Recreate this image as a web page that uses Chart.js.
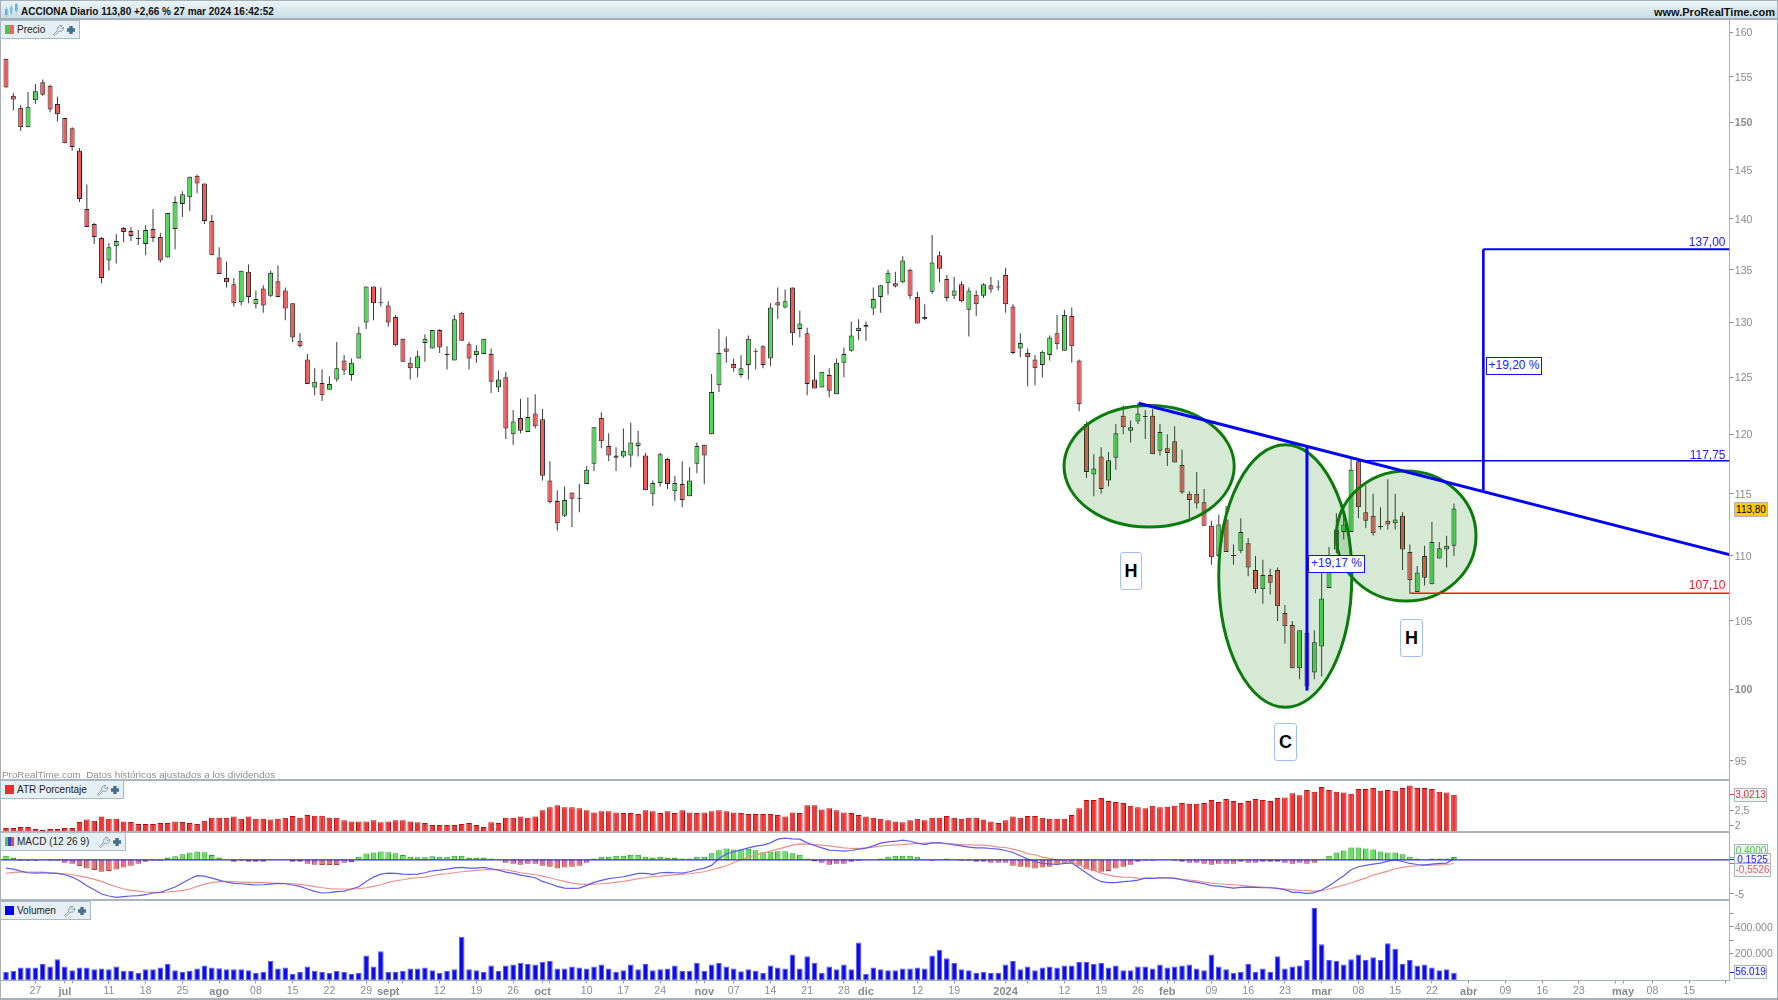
<!DOCTYPE html>
<html lang="es"><head><meta charset="utf-8"><title>ACCIONA Diario</title>
<script src="https://cdn.jsdelivr.net/npm/chart.js@4/dist/chart.umd.js"></script>
<style>
html,body{margin:0;padding:0;background:#fff;overflow:hidden}
#stage{position:relative;width:1778px;height:1000px;background:#fff;font-family:"Liberation Sans",Arial,sans-serif;overflow:hidden}
canvas{position:absolute;left:0;display:block}
.ov{position:absolute;white-space:nowrap;z-index:5;box-sizing:border-box}
.hline{position:absolute;left:0;z-index:4;background:#a9b6bd}
.legend{position:absolute;left:0;z-index:6;box-sizing:border-box;background:#e6eff3;border:1px solid #a8bac6;border-left:1px solid #a8bac6;color:#222;font-size:10px;display:flex;align-items:center}
.legend .sw{display:inline-block;width:9px;height:9px;margin:0 3px 0 4px;flex:none}
.legend svg{margin-left:auto;margin-right:3px;flex:none}
.box{position:absolute;z-index:6;box-sizing:border-box;background:#f2f4f5;border:1px solid #a9b6bd;font-size:10px;text-align:center;white-space:nowrap}
.lvl{position:absolute;z-index:6;font-size:12px;white-space:nowrap;text-align:right}
.pct{position:absolute;z-index:6;box-sizing:border-box;background:#fff;border:1.5px solid #1010ff;color:#2020ff;font-size:12px;text-align:center;white-space:nowrap}
.tag{position:absolute;z-index:6;box-sizing:border-box;background:#fff;border:1.5px solid #9fc0fa;border-radius:3px;color:#000;font-weight:bold;font-size:18px;text-align:center}
</style></head><body>
<div id="stage">
<canvas id="cPrice" width="1778" height="760" style="top:20px"></canvas>
<canvas id="cAtr" width="1778" height="52" style="top:780px"></canvas>
<canvas id="cMacd" width="1778" height="68" style="top:832px"></canvas>
<canvas id="cVol" width="1778" height="100" style="top:900px"></canvas>
</div>
<script>
const opens=[157.0,152.9,151.6,149.5,152.4,154.4,154.0,152.0,150.5,149.4,
147.0,141.0,139.5,138.1,135.9,137.3,139.1,138.8,138.0,137.5,
139.0,138.2,136.2,139.0,141.5,142.2,144.4,143.6,139.8,136.2,
134.2,133.6,131.9,134.8,131.7,133.2,132.5,133.9,133.0,131.8,
128.3,126.6,124.1,124.5,123.9,124.8,126.5,125.2,126.7,130.0,
133.4,131.9,131.6,130.5,128.5,126.3,125.8,128.1,127.6,129.3,
127.0,126.5,130.9,128.0,127.0,127.1,127.1,124.1,125.0,120.0,
121.4,120.2,121.8,121.3,116.1,114.4,113.2,115.1,114.6,115.8,
117.5,121.4,119.0,118.2,118.1,118.2,119.0,118.2,115.0,115.9,
117.9,115.2,115.8,114.8,117.5,119.1,120.0,124.3,127.6,126.2,
125.2,126.1,127.3,127.8,126.7,131.9,131.4,133.3,129.4,129.0,
124.8,124.1,125.2,123.5,126.3,127.4,129.2,129.6,131.3,132.4,
133.7,133.7,133.8,135.0,132.4,130.3,132.9,136.4,134.1,132.5,
133.6,131.2,132.6,132.5,133.5,133.3,134.5,131.5,127.6,127.2,
126.6,126.1,127.0,129.0,127.4,130.6,126.5,120.9,116.6,118.1,
116.1,118.0,121.6,120.3,121.1,121.5,121.6,118.6,118.8,119.4,
117.4,115.0,115.0,114.3,112.4,110.0,112.9,110.0,110.4,111.0,
108.9,107.4,108.5,108.9,105.6,104.7,101.5,104.1,101.2,103.1,
107.5,110.5,111.9,111.9,117.7,113.5,113.2,112.3,112.8,112.6,
113.2,110.3,107.2,110.0,107.8,109.8,110.5,110.8];
const highs=[157.0,153.2,151.9,153.3,154.2,154.7,154.1,152.8,150.5,149.5,
147.3,143.5,139.6,138.2,137.6,138.5,139.2,139.2,138.9,139.4,
141.0,138.6,140.6,142.3,142.8,144.3,144.5,143.6,140.4,137.2,
135.8,134.2,134.9,135.5,133.0,133.5,134.9,135.4,133.3,131.8,
129.0,127.1,125.8,125.7,125.1,128.2,127.0,126.7,129.6,133.4,
133.4,133.3,132.0,130.7,128.5,126.8,127.4,128.9,129.3,129.4,
127.8,130.7,131.0,128.2,127.9,128.5,127.6,125.6,125.5,122.1,
123.1,123.2,123.5,122.2,117.7,115.3,115.6,115.1,115.8,117.3,
120.6,121.9,120.1,118.9,120.5,121.0,120.3,118.4,116.1,118.4,
118.0,116.5,117.7,117.2,119.3,119.1,125.3,129.4,128.7,126.7,
127.0,128.8,127.6,127.9,131.8,133.3,133.1,133.3,131.1,129.5,
127.0,125.5,125.8,126.7,127.7,130.1,130.3,130.1,133.3,133.5,
135.0,134.8,136.3,135.1,132.9,131.7,138.4,136.8,134.5,134.3,
133.9,133.3,133.0,133.7,134.3,134.0,135.2,131.7,129.0,127.6,
127.0,127.4,128.8,130.7,131.2,131.4,126.6,121.1,118.3,118.9,
118.5,120.9,122.5,121.2,122.7,122.1,122.2,120.9,120.0,120.7,
118.7,115.2,116.8,115.4,112.8,113.3,114.0,110.9,113.0,111.4,
110.0,109.7,109.0,109.1,106.2,105.0,104.3,104.2,104.3,108.8,
110.7,113.4,113.3,117.9,117.9,115.7,115.0,113.9,116.2,115.0,
113.5,110.9,109.2,110.8,112.7,111.1,111.6,114.2];
const lows=[153.8,151.3,149.1,149.5,152.0,152.9,151.1,150.1,147.8,147.0,
141.7,139.2,137.5,133.7,134.9,135.6,137.7,137.8,137.4,136.4,
137.7,135.7,136.2,137.0,140.2,140.8,142.6,139.5,136.4,134.6,
133.3,131.5,131.6,131.8,131.3,130.9,132.4,132.4,130.2,128.2,
127.7,124.4,123.4,122.9,123.9,124.6,125.2,124.7,126.7,129.4,
130.2,131.5,129.6,127.8,126.4,124.8,125.0,126.4,127.6,127.2,
125.7,126.5,128.3,125.7,126.3,127.1,123.6,123.7,119.6,119.1,
120.1,120.2,120.5,116.1,114.2,112.0,113.1,112.3,113.5,115.8,
116.9,118.8,117.7,116.9,118.0,117.2,118.1,115.3,114.0,115.6,
115.4,114.4,113.9,114.8,116.7,115.8,120.0,123.7,126.3,125.5,
125.0,124.8,125.7,125.8,126.0,130.3,131.3,127.9,128.6,123.4,
124.0,124.1,123.2,123.5,125.0,127.3,128.4,128.3,130.7,130.9,
132.6,133.3,133.7,132.2,129.9,130.2,132.7,133.8,132.0,132.2,
131.9,128.7,130.6,132.3,132.8,133.0,130.9,127.1,126.8,124.2,
124.3,125.0,126.5,127.5,127.4,126.3,122.0,116.3,114.8,115.0,
115.6,117.0,120.0,119.3,120.9,119.6,118.3,118.2,117.3,117.6,
115.0,113.0,113.8,112.4,109.3,109.9,110.3,109.3,110.2,108.4,
107.1,106.3,107.0,105.0,103.3,101.5,100.7,99.9,100.7,100.9,
107.5,110.2,111.3,111.9,113.0,112.2,111.6,112.1,112.1,112.1,
108.9,107.1,107.2,107.7,107.8,109.8,109.1,110.0];
const closes=[153.8,152.5,149.5,151.7,153.4,153.0,151.4,150.9,147.8,147.4,
142.0,139.2,138.2,134.2,137.2,137.8,138.7,138.3,138.0,138.9,
138.1,135.9,140.6,141.7,142.5,144.3,143.6,139.8,136.4,134.6,
133.8,131.8,134.9,132.4,132.2,131.6,134.7,132.4,131.3,128.6,
127.8,124.4,124.6,123.4,124.4,125.8,125.6,126.3,129.0,133.4,
131.8,131.8,130.0,127.9,126.4,125.8,126.9,128.5,129.3,127.7,
127.0,130.3,128.3,126.7,127.4,128.5,124.6,124.8,120.5,121.1,
120.3,121.5,120.7,116.5,114.3,112.6,114.5,114.6,114.6,117.0,
120.6,119.4,118.2,118.0,118.6,119.3,119.3,115.3,115.9,118.3,
115.8,115.9,114.5,116.1,119.0,118.2,123.7,127.2,127.3,125.8,
125.8,128.5,127.3,126.1,131.4,131.6,132.0,129.0,129.9,124.4,
124.0,125.5,123.8,126.3,127.1,128.8,129.5,129.8,132.2,133.5,
134.7,133.4,135.9,132.5,129.9,130.5,135.7,135.1,132.3,133.0,
132.0,133.0,131.7,133.6,133.1,133.3,131.7,127.2,128.1,126.8,
125.8,127.3,128.6,128.0,130.7,127.8,122.6,116.8,117.1,115.4,
117.8,120.1,120.6,120.6,121.8,121.5,118.3,120.2,118.4,117.6,
115.1,114.5,114.2,112.4,109.9,112.5,110.3,110.0,111.9,109.1,
107.4,108.5,107.9,106.1,104.6,101.5,104.3,100.2,103.4,106.7,
109.2,112.1,112.5,117.0,113.9,112.8,111.8,112.3,112.5,112.9,
110.5,108.1,108.7,108.3,111.1,110.6,110.8,113.8];
const atrPct=[1.91,1.91,1.94,1.94,1.88,1.84,1.88,1.88,1.91,1.91,2.11,2.19,2.15,2.29,2.22,2.22,2.13,2.11,2.04,2.04,2.04,2.08,2.08,2.13,2.11,2.08,2.04,2.15,2.25,2.25,2.25,2.29,2.22,2.29,2.22,2.22,2.19,2.22,2.25,2.31,2.25,2.34,2.32,2.32,2.25,2.25,2.17,2.13,2.13,2.13,2.17,2.10,2.13,2.17,2.17,2.13,2.10,2.08,2.01,2.01,2.01,2.01,2.04,2.08,2.01,1.94,2.10,2.08,
2.25,2.25,2.29,2.25,2.29,2.50,2.60,2.67,2.60,2.60,2.57,2.50,2.43,2.47,2.47,2.43,2.41,2.41,2.38,2.50,2.47,2.41,2.47,2.41,2.50,2.43,2.41,2.43,2.47,2.50,2.47,2.43,2.41,2.38,2.38,2.38,2.38,2.34,2.29,2.43,2.41,2.67,2.67,2.53,2.57,2.50,2.43,2.41,2.34,2.29,2.25,2.22,2.17,2.13,2.10,2.17,2.22,2.17,2.25,2.25,2.31,2.25,2.22,2.25,2.25,2.19,2.13,2.08,
2.17,2.29,2.25,2.31,2.31,2.25,2.22,2.22,2.22,2.34,2.57,2.84,2.84,2.91,2.81,2.78,2.74,2.65,2.60,2.57,2.65,2.60,2.62,2.65,2.74,2.72,2.72,2.74,2.84,2.78,2.88,2.81,2.74,2.81,2.88,2.84,2.81,2.91,2.93,3.07,3.00,3.18,3.12,3.28,3.18,3.12,3.09,3.05,3.21,3.21,3.24,3.15,3.18,3.15,3.24,3.33,3.24,3.24,3.21,3.12,3.09,3.02];
const macdHist=[.59,.34,-.15,-.15,-.15,0,-.15,-.15,-.44,-.59,
-.93,-1.27,-1.52,-1.76,-1.67,-1.42,-1.13,-.88,-.59,-.29,
-.15,-.15,.34,.54,.83,1.08,1.23,1.13,.69,.34,
0,-.29,-.15,-.29,-.29,-.29,0,0,0,-.29,
-.29,-.59,-.74,-.78,-.78,-.78,-.44,-.34,.44,.93,
1.08,1.23,1.13,.98,.69,.44,.39,.39,.54,.44,
.44,.59,.59,.34,.34,.34,.2,0,
-.44,-.59,-.74,-.59,-.59,-.88,-1.03,-1.27,-1.13,-1.03,-.88,-.44,
.2,.44,.44,.59,.59,.74,.74,.44,.34,.44,
.34,.34,.2,.2,.44,.44,.98,1.42,1.67,1.52,
1.52,1.62,1.42,1.13,1.23,1.27,1.27,.98,.74,.2,
-.25,-.44,-.74,-.59,-.59,-.29,-.15,0,0,.2,
.44,.59,.59,.59,.44,0,-.15,0,.2,0,
-.15,-.15,-.29,-.29,-.44,-.44,-.44,-.88,-1.03,-1.13,
-1.27,-1.13,-1.03,-.74,-.44,-.44,-.88,-1.37,-1.67,-1.76,
-1.67,-1.27,-1.03,-.74,-.29,-.15,-.15,0,0,-.15,
-.29,-.44,-.44,-.59,-.74,-.59,-.59,-.59,-.29,-.44,
-.44,-.29,-.29,-.29,-.44,-.59,-.44,-.59,-.44,0,
.59,1.08,1.37,1.81,1.81,1.67,1.52,1.23,1.08,1.08,
.83,.44,.2,0,.2,.2,.2,.40];
const macdLine=[-1.23,-1.37,-1.67,-1.91,-1.96,-1.91,-1.96,-2.01,-2.21,-2.55,
-3.09,-3.82,-4.41,-5.05,-5.34,-5.54,-5.44,-5.34,-5.29,-5.15,
-4.90,-4.80,-4.41,-4.02,-3.43,-2.84,-2.35,-2.40,-2.70,-2.99,
-3.28,-3.48,-3.53,-3.63,-3.72,-3.68,-3.58,-3.48,-3.53,-3.72,
-3.92,-4.31,-4.66,-4.90,-4.85,-4.70,-4.61,-4.31,-3.97,-3.19,
-2.55,-2.11,-1.96,-2.01,-2.11,-2.16,-2.11,-1.91,-1.62,-1.52,
-1.37,-1.18,-1.13,-1.23,-1.23,-1.13,-1.32,-1.52,-1.81,-2.01,
-2.25,-2.45,-2.65,-3.19,-3.53,-3.92,-4.17,-4.21,-4.17,-3.77,
-3.33,-3.04,-2.79,-2.65,-2.50,-2.25,-2.01,-2.01,-2.16,-1.91,
-1.86,-1.91,-1.96,-1.76,-1.47,-1.23,-.83,.20,.83,1.18,
1.47,1.76,2.01,2.16,2.50,3.04,3.19,3.09,3.04,2.50,
2.11,1.76,1.42,1.37,1.27,1.37,1.57,1.72,2.06,2.45,
2.65,2.74,2.89,2.74,2.45,2.25,2.50,2.55,2.40,2.21,
2.06,1.86,1.76,1.76,1.67,1.57,1.37,1.08,.59,.10,
-.25,-.54,-.59,-.69,-.54,-.49,-1.18,-1.96,-2.70,-3.23,
-3.38,-3.38,-3.23,-3.14,-2.99,-2.70,-2.74,-2.65,-2.65,-2.70,
-2.94,-3.19,-3.33,-3.53,-3.82,-3.87,-4.02,-4.17,-4.07,-4.02,
-4.07,-4.12,-4.12,-4.21,-4.41,-4.80,-4.80,-5.00,-4.85,-4.46,
-3.82,-3.09,-2.35,-1.47,-1.03,-.83,-.64,-.49,-.20,0,
-.25,-.54,-.69,-.74,-.64,-.54,-.49,.15];
const macdSignal=[-2.01,-1.86,-1.81,-1.81,-1.81,-1.81,-1.91,-2.01,-2.06,-2.21,
-2.40,-2.60,-2.89,-3.19,-3.63,-3.97,-4.31,-4.51,-4.61,-4.75,
-4.80,-4.80,-4.75,-4.66,-4.51,-4.31,-3.92,-3.58,-3.38,-3.23,
-3.19,-3.23,-3.28,-3.33,-3.38,-3.38,-3.43,-3.48,-3.48,-3.53,
-3.63,-3.77,-3.97,-4.12,-4.26,-4.31,-4.31,-4.31,-4.26,-4.12,
-3.92,-3.68,-3.33,-3.09,-2.94,-2.74,-2.65,-2.55,-2.35,-2.16,
-2.06,-1.91,-1.76,-1.67,-1.57,-1.47,-1.42,-1.47,-1.47,-1.67,
-1.91,-2.06,-2.21,-2.40,-2.65,-2.94,-3.19,-3.43,-3.58,-3.63,
-3.58,-3.53,-3.43,-3.28,-3.19,-2.99,-2.79,-2.65,-2.45,-2.40,
-2.30,-2.21,-2.11,-2.06,-1.91,-1.76,-1.47,-1.18,-.88,-.44,
0,.39,.69,.98,1.27,1.57,1.86,2.16,2.35,2.30,
2.25,2.16,2.06,1.91,1.76,1.67,1.67,1.76,1.86,2.01,
2.11,2.21,2.25,2.35,2.40,2.45,2.45,2.40,2.35,2.30,
2.25,2.21,2.16,2.16,2.06,1.86,1.81,1.57,1.32,.88,
.74,.39,.20,0,-.20,-.39,-.74,-1.27,-1.57,-1.96,
-2.25,-2.45,-2.55,-2.60,-2.70,-2.74,-2.74,-2.70,-2.70,-2.79,
-2.89,-2.99,-3.09,-3.28,-3.43,-3.53,-3.63,-3.68,-3.77,-3.87,
-3.97,-4.02,-4.12,-4.21,-4.31,-4.41,-4.51,-4.56,-4.61,-4.56,
-4.31,-4.02,-3.72,-3.43,-3.04,-2.70,-2.25,-1.96,-1.67,-1.32,
-1.13,-.98,-.88,-.83,-.78,-.74,-.69,-.55];
const volumes=[62500,70000,95000,95000,95000,122500,102500,157500,102500,75000,95000,95000,82500,87500,82500,102500,70000,70000,55000,82500,82500,95000,122500,75000,62500,70000,87500,110000,95000,90000,82500,82500,82500,75000,55000,62500,145000,87500,95000,47500,62500,102500,70000,62500,55000,70000,62500,47500,55000,185000,102500,217500,62500,62500,70000,87500,87500,95000,75000,55000,70000,82500,325000,82500,75000,62500,110000,70000,
110000,117500,130000,122500,117500,137500,145000,87500,87500,102500,95000,87500,102500,117500,87500,62500,75000,117500,82500,122500,75000,82500,87500,110000,70000,70000,130000,70000,117500,130000,102500,87500,67500,82500,70000,55000,110000,95000,87500,192500,87500,180000,130000,55000,102500,82500,117500,82500,282500,47500,95000,82500,75000,75000,87500,87500,95000,87500,185000,227500,165000,130000,82500,75000,55000,62500,55000,55000,
117500,145000,82500,102500,75000,95000,102500,95000,110000,110000,137500,137500,122500,130000,95000,110000,75000,75000,102500,102500,87500,117500,95000,102500,110000,117500,87500,75000,192500,102500,82500,55000,62500,122500,62500,87500,62500,180000,87500,102500,110000,152500,540000,270000,152500,145000,117500,157500,192500,152500,172500,152500,277500,235000,122500,152500,110000,117500,95000,75000,82500,56019];
const dateTickIdx=[4,8,9,14,19,24,29,34,39,44,49,52,54,59,64,69,73,74,79,84,89,94,95,99,104,109,114,117,124,129,136,139,144,149,154,158,159,164,169,174,179,184,189,194,199,204,209,214,219,220,224,229,234];
const dateTickTxt=['27','jul','','11','18','25','ago','08','15','22','29','sept','','12','19','26','oct','','10','17','24','','nov','07','14','21','28','dic','12','19','2024','','12','19','26','feb','','09','16','23','mar','08','15','22','abr','09','16','23','','may','08','15',''];
const monthNames=['jul','ago','sept','oct','nov','dic','2024','feb','mar','abr','may'];
const priceTicks=[95,100,105,110,115,120,125,130,135,140,145,150,155,160];
const boldPrices=[100,150];
const atrTicks=[2,2.5];
const macdTicks=[-5];
const volTicks=[200000,300000,400000,500000];
const volTickTxt=['200.000','','400.000',''];
// Trazados dibujados sobre el gráfico (índice de vela, precio)
const trendX=[154.1,234.46], trendY=[122.7,110.1];
const riseA_X=[177,177], riseA_Y=[99.9,118.95];
const riseB_X=[201,201], riseB_Y=[115.3,137];
const level137X=[201,234.46], level137Y=[137,137];
const level117X=[184,234.46], level117Y=[117.75,117.75];
const level107X=[191,234.46], level107Y=[107.1,107.1];
const ellipseLeft=[143.95,165.0,181.0], ellipseRight=[167.1,183.1,200.0], ellipseTop=[122.5,119.1,116.9], ellipseBottom=[112.3,98.7,106.5];
</script>
<script>
const FONT='"Liberation Sans", Arial, sans-serif';
const xMin=-0.816, xMax=234.46, AXW=48.7;
const GREY='#8a8a8a', AXC='#a4b1b8';
Chart.defaults.font.family=FONT;
Chart.defaults.animation=false;
function noPad(s){s.paddingTop=0;s.paddingBottom=0;s.paddingLeft=0;s.paddingRight=0;}
function xScale(show){return {type:'linear',min:xMin,max:xMax,offset:false,bounds:'data',display:show,
  grid:{display:show,offset:false,drawOnChartArea:false,drawTicks:true,tickLength:3,color:'#8a9aa2'},
  border:{display:show,color:AXC,width:1},
  afterBuildTicks(s){s.ticks=dateTickIdx.map(v=>({value:v}))},
  afterFit(s){noPad(s);if(show)s.height=19.7},
  ticks:{autoSkip:false,maxRotation:0,minRotation:0,includeBounds:false,padding:2,color:GREY,
    callback(v){const i=dateTickIdx.indexOf(v);return i<0?'':dateTickTxt[i]},
    font(c){const b=c.tick&&monthNames.includes(dateTickTxt[dateTickIdx.indexOf(c.tick.value)]);return {family:FONT,size:b?11:10.5,weight:b?'bold':'normal'}}}};}
function yScale(extra,values,label,bold){return Object.assign({position:'right',bounds:'data',
  grid:{drawOnChartArea:false,drawTicks:true,tickLength:4,color:'#8a8a8a'},
  border:{display:true,color:AXC,width:1},
  afterFit(s){noPad(s);s.width=AXW},
  afterBuildTicks(s){s.ticks=values.map(v=>({value:v}))},
  ticks:{autoSkip:false,padding:1.5,labelOffset:1,color:GREY,callback:label,
    font(c){const b=bold&&c.tick&&bold.includes(c.tick.value);return {family:FONT,size:10.5,weight:b?'bold':'normal'}}}},extra);}
const baseOpts=(x,y)=>({responsive:false,animation:false,devicePixelRatio:1,events:[],
  layout:{autoPadding:false,padding:0},plugins:{legend:{display:false},tooltip:{enabled:false}},scales:{x,y}});
const seg=(xs,ys,color,w,o)=>({type:'line',label:o.label,data:xs.map((x,i)=>({x,y:ys[i]})),borderColor:color,borderWidth:w,pointRadius:0,tension:0,order:0,borderCapStyle:'butt',fill:false});

const ellipsePlugin={id:'ellipses',afterDatasetDraw(chart,args){
  if(chart.data.datasets[args.index].label!=='Cuerpo')return;
  const {ctx,scales:{x,y}}=chart;ctx.save();
  ellipseLeft.forEach((_,i)=>{
    const l=x.getPixelForValue(ellipseLeft[i]),r=x.getPixelForValue(ellipseRight[i]),t=y.getPixelForValue(ellipseTop[i]),b=y.getPixelForValue(ellipseBottom[i]);
    ctx.beginPath();ctx.ellipse((l+r)/2,(t+b)/2,(r-l)/2,(b-t)/2,0,0,Math.PI*2);
    ctx.fillStyle='rgba(0,120,0,0.165)';ctx.fill();ctx.lineWidth=3;ctx.strokeStyle='#0b7b0b';ctx.stroke();
  });ctx.restore();}};

new Chart(document.getElementById('cPrice'),{type:'bar',plugins:[ellipsePlugin],data:{datasets:[
  seg(trendX,trendY,'#0000ff',3,{label:'Tendencia'}),
  seg(riseA_X,riseA_Y,'#0000ff',3,{label:'Subida A'}),
  seg(riseB_X,riseB_Y,'#0000ff',2.6,{label:'Subida B'}),
  seg(level137X,level137Y,'#0000ff',2,{label:'137'}),
  seg(level117X,level117Y,'#0000ff',1.7,{label:'117'}),
  seg(level107X,level107Y,'#ff1010',1.7,{label:'107'}),
  {label:'Cuerpo',order:1,grouped:false,barThickness:5,minBarLength:1,inflateAmount:0,borderWidth:1,borderSkipped:false,borderColor:'#262626',
   backgroundColor:closes.map((c,i)=>c>=opens[i]?'#48dc50':'#f25a5a'),
   data:opens.map((o,i)=>({x:i,y:[o,closes[i]]}))},
  {label:'Mecha',order:2,grouped:false,barThickness:1,inflateAmount:0,borderWidth:0,backgroundColor:'#3a3a3a',
   data:lows.map((l,i)=>({x:i,y:[l,highs[i]]}))}
]},options:baseOpts(xScale(false),yScale({type:'logarithmic',min:93.7,max:161.42},priceTicks,v=>String(v),boldPrices))});

new Chart(document.getElementById('cAtr'),{type:'bar',data:{datasets:[
  {label:'ATR Porcentaje',barThickness:5.6,inflateAmount:0,borderWidth:1,borderSkipped:false,borderColor:'#b80c0c',backgroundColor:'#f43434',
   data:atrPct.map((v,i)=>({x:i,y:v}))}
]},options:baseOpts(xScale(false),yScale({min:1.777,max:3.51},atrTicks,v=>String(v).replace('.',',')))});

new Chart(document.getElementById('cMacd'),{type:'bar',data:{datasets:[
  {type:'line',label:'Cero',order:0,data:[{x:xMin,y:0},{x:xMax,y:0}],borderColor:'#2a2ae8',borderWidth:1.2,pointRadius:0,tension:0},
  {type:'line',label:'MACD',order:1,data:macdLine.map((v,i)=>({x:i,y:v})),borderColor:'#5c5cf0',borderWidth:1.2,pointRadius:0,tension:0},
  {type:'line',label:'Señal',order:2,data:macdSignal.map((v,i)=>({x:i,y:v})),borderColor:'#ee9090',borderWidth:1.2,pointRadius:0,tension:0},
  {label:'Histograma',order:3,barThickness:5.6,inflateAmount:0,borderWidth:1,borderSkipped:false,
   borderColor:macdHist.map(v=>v>=0?'#1ea41e':'#b04040'),backgroundColor:macdHist.map(v=>v>=0?'#62e062':'#e87070'),
   data:macdHist.map((v,i)=>({x:i,y:v===0?null:v}))}
]},options:baseOpts(xScale(false),yScale({min:-5.93,max:4.1},macdTicks,v=>String(v)))});

new Chart(document.getElementById('cVol'),{type:'bar',data:{datasets:[
  {label:'Volumen',barThickness:5.6,inflateAmount:0,borderWidth:1,borderSkipped:false,borderColor:'#5a5af5',backgroundColor:'#0c0ce6',
   data:volumes.map((v,i)=>({x:i,y:v}))}
]},options:baseOpts(xScale(true),yScale({min:0,max:600000},volTicks,v=>volTickTxt[volTicks.indexOf(v)]||''))});

// Elementos de interfaz
const stage=document.getElementById('stage');
function add(cls,css,html){const d=document.createElement('div');d.className=cls;d.style.cssText=css;if(html!==undefined)d.innerHTML=html;stage.appendChild(d);return d;}
// cabecera
add('ov','left:0;top:0;width:1778px;height:20px;background:linear-gradient(#ebf4f8,#c9dde6);border-top:1px solid #a4b1b8;border-bottom:2px solid #a4b1b8;');
add('ov','left:4px;top:3px;width:14px;height:14px;','<svg width="14" height="14"><rect x="1" y="6" width="2.6" height="6" fill="#58b4ea"/><rect x="6" y="4" width="2.6" height="6" fill="#7cc8f0"/><rect x="11" y="1" width="2.6" height="7" fill="#58b4ea"/><path d="M2.3 4v10M7.3 2v10M12.3 0v10" stroke="#7cb6d8" stroke-width=".8"/></svg>');
add('ov','left:21px;top:6px;font-size:10px;font-weight:bold;color:#111;line-height:12px;','ACCIONA Diario 113,80 +2,66 % 27 mar 2024 16:42:52');
add('ov','right:3px;top:6px;font-size:11px;font-weight:bold;color:#111;line-height:12px;','www.ProRealTime.com');
// separadores
[[780,2],[832,2],[900,1.5]].forEach(([t,h])=>add('hline',`top:${t-1}px;width:1730px;height:${h}px;`));
add('ov','left:0;top:998px;width:1778px;height:2px;background:#a4b1b8;');
add('ov','left:0;top:0;width:1px;height:1000px;background:#a4b1b8;');
add('ov','left:1777px;top:0;width:1px;height:1000px;background:#a4b1b8;');
// leyendas
const tool='<svg width="24" height="12" viewBox="0 0 24 12"><path d="M1.5 10.5 L6 6 C5 3 7 1 10 1.5 L8 3.5 L9.5 5 L11.5 3 C12 6 10 8 7 7 L3 11.5Z" fill="#eef4f7" stroke="#6f8ca0" stroke-width=".8"/><path d="M19 2v8M15 6h8" stroke="#47708f" stroke-width="3.4"/></svg>';
function legend(t,w,label,sw){add('legend',`top:${t}px;width:${w}px;height:19px;`,`<span class="sw" style="${sw}"></span><span>${label}</span>${tool}`);}
legend(20,80,'Precio','background:linear-gradient(90deg,#47c84f 50%,#f26262 50%)');
legend(780,124,'ATR Porcentaje','background:#ee2b2b');
legend(832,126,'MACD (12 26 9)','background:linear-gradient(90deg,#47c84f 33%,#3a3adf 33%,#3a3adf 66%,#e04a4a 66%)');
legend(901,91,'Volumen','background:#0000f0');
// marca de agua
add('ov','left:2px;top:769px;font-size:9.9px;color:#8e8e8e;line-height:12px;','ProRealTime.com&nbsp; Datos históricos ajustados a los dividendos');
// niveles
add('lvl','right:52.5px;top:235px;color:#2020ff;','137,00');
add('lvl','right:52.5px;top:448px;color:#2020ff;','117,75');
add('lvl','right:52.5px;top:578px;color:#f01818;','107,10');
add('pct','left:1308px;top:555px;width:57px;height:18px;line-height:15px;','+19,17 %');
add('pct','left:1486px;top:357px;width:56px;height:18px;line-height:15px;','+19,20 %');
add('tag','left:1120px;top:552px;width:22px;height:38px;line-height:36px;','H');
add('tag','left:1400px;top:619px;width:23px;height:38px;line-height:36px;','H');
add('tag','left:1274px;top:723px;width:23px;height:38px;line-height:36px;','C');
// cajas de valor
add('box','left:1734px;top:502px;width:34px;height:15px;line-height:13px;background:#ffcc00;color:#000;','113,80');
function vbox(l,t,w,h,color,txt,tick){add('box',`left:${l}px;top:${t}px;width:${w}px;height:${h}px;line-height:${h-2}px;color:${color};`,txt);
 add('ov',`left:1730px;top:${tick}px;width:4px;height:1px;background:${color};`);}
vbox(1734,788,33,14,'#f03030','3,0213',794);
vbox(1734,844,34,14,'#3ecb3e','0,4000',857);
vbox(1734,853,37,14,'#2020f0','0,1525',859);
vbox(1734,863,37,14,'#e06060','-0,5526',863);
vbox(1734,965,33,14,'#1818f0','56.019',972);
</script>
</body></html>
